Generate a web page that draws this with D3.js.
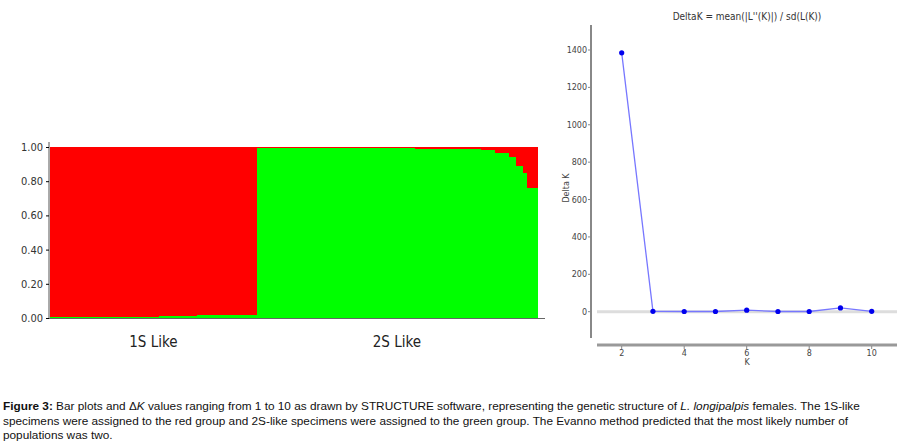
<!DOCTYPE html>
<html><head><meta charset="utf-8">
<script src="https://cdn.jsdelivr.net/npm/d3@7"></script>
<style>body{margin:0;background:#fff}svg{display:block}</style>
</head><body>
<script>
// STRUCTURE bar plot: green membership per individual (red = 1 - green)
var green1S = [0.003,0.003,0.003,0.003,0.003,0.003,0.003,0.003,0.003,0.003,0.003,0.003,0.003,0.003,0.003,0.003,
  0.003,0.003,0.003,0.003,0.003,0.003,0.003,0.003,0.003,0.003,0.003,0.003,0.003,0.003,0.003,
  0.01,0.01,0.01,0.01,0.01,0.01,0.01,0.01,0.01,0.01,0.01,
  0.015,0.015,0.015,0.015,0.015,0.015,0.015,0.015,0.015,0.015,0.015,0.015,0.015,0.02,0.02,0.02,0.02];
var green2S = [0.995,0.995,0.995,0.995,0.995,0.995,0.995,0.995,0.995,0.995,0.995,0.995,0.995,0.995,0.995,
  0.995,0.995,0.995,0.995,0.995,0.995,0.995,0.995,0.995,0.995,0.995,0.995,0.995,0.995,0.995,
  0.995,0.995,0.995,0.995,0.995,0.995,0.995,0.995,0.995,0.995,0.995,0.995,0.995,0.995,0.995,
  0.99,0.99,0.99,0.99,0.99,0.99,0.99,0.99,0.99,0.99,0.99,0.99,0.99,0.99,0.99,0.99,0.99,0.99,0.99,
  0.98,0.98,0.98,0.98,0.965,0.965,0.965,0.965,0.94,0.94,0.89,0.89,0.85,0.76,0.76,0.76];
var groups = ["1S Like", "2S Like"];
var barTicks = [0, 0.2, 0.4, 0.6, 0.8, 1.0];

// Evanno delta K
var kValues = [2, 3, 4, 5, 6, 7, 8, 9, 10];
var deltaK = [1385, 2, 1, 1, 8, 1, 1, 20, 2];
var kTicks = [2, 4, 6, 8, 10];
var dkTicks = [0, 200, 400, 600, 800, 1000, 1200, 1400];

var svg = d3.select("body").append("svg").attr("width", 918).attr("height", 447);

// ---- left: bar plot
var inds = green1S.map(function(g) { return {g: g, grp: 0}; })
  .concat(green2S.map(function(g) { return {g: g, grp: 1}; }));
var x = d3.scaleBand().domain(d3.range(inds.length)).range([50, 537]).padding(0);
var y = d3.scaleLinear().domain([0, 1]).range([318, 147]);

var bars = svg.append("g").attr("shape-rendering", "crispEdges");
bars.selectAll("rect.red").data(inds).enter().append("rect")
  .attr("x", function(d, i) { return x(i); }).attr("width", x.bandwidth() + 0.5)
  .attr("y", y(1)).attr("height", function(d) { return y(d.g) - y(1); })
  .attr("fill", "#ff0000");
bars.selectAll("rect.green").data(inds).enter().append("rect")
  .attr("x", function(d, i) { return x(i); }).attr("width", x.bandwidth() + 0.5)
  .attr("y", function(d) { return y(d.g); }).attr("height", function(d) { return y(0) - y(d.g); })
  .attr("fill", "#00ff00");

var yAx = svg.append("g").attr("transform", "translate(49,0)")
  .call(d3.axisLeft(y).tickValues(barTicks).tickFormat(d3.format(".2f")).tickSize(3));
yAx.select(".domain").attr("stroke", "#555").attr("d", "M0,142V318");
yAx.selectAll("text").attr("font-family", "DejaVu Sans Condensed, sans-serif").attr("font-size", 11).attr("fill", "#333").attr("x", -6);
svg.append("line").attr("x1", 49).attr("x2", 545).attr("y1", 318.5).attr("y2", 318.5).attr("stroke", "#666");

var n1 = green1S.length;
var centers = [(x(0) + x(n1 - 1) + x.bandwidth()) / 2, (x(n1) + x(inds.length - 1) + x.bandwidth()) / 2];
svg.selectAll("text.grp").data(groups).enter().append("text")
  .attr("x", function(d, i) { return centers[i]; }).attr("y", 347)
  .attr("text-anchor", "middle").attr("font-family", "DejaVu Sans Condensed, sans-serif")
  .attr("font-size", 15).attr("fill", "#222").text(function(d) { return d; });

// ---- right: delta K
var kx = d3.scaleLinear().domain([2, 10]).range([621.7, 871.7]);
var ky = d3.scaleLinear().domain([0, 1400]).range([311.7, 50]);
var g2 = svg.append("g");
g2.append("line").attr("x1", 591).attr("x2", 591).attr("y1", ky(1534)).attr("y2", ky(-141))
  .attr("stroke", "#888").attr("stroke-width", 2);
g2.append("line").attr("x1", 597).attr("x2", 897).attr("y1", 345).attr("y2", 345)
  .attr("stroke", "#999").attr("stroke-width", 3);
g2.append("line").attr("x1", 597).attr("x2", 897).attr("y1", ky(0)).attr("y2", ky(0))
  .attr("stroke", "#ddd").attr("stroke-width", 3);
g2.selectAll("text.yt").data(dkTicks).enter().append("text")
  .attr("x", 587).attr("y", function(d) { return ky(d) + 3; }).attr("text-anchor", "end")
  .attr("font-family", "DejaVu Sans, sans-serif").attr("font-size", 8).attr("fill", "#444")
  .text(function(d) { return d; });
g2.selectAll("line.yt").data(dkTicks).enter().append("line")
  .attr("x1", 588).attr("x2", 591).attr("y1", function(d) { return ky(d); }).attr("y2", function(d) { return ky(d); })
  .attr("stroke", "#888");
g2.selectAll("text.xt").data(kTicks).enter().append("text")
  .attr("x", function(d) { return kx(d); }).attr("y", 356).attr("text-anchor", "middle")
  .attr("font-family", "DejaVu Sans, sans-serif").attr("font-size", 8).attr("fill", "#444")
  .text(function(d) { return d; });
g2.selectAll("line.xt").data(kTicks).enter().append("line")
  .attr("x1", function(d) { return kx(d); }).attr("x2", function(d) { return kx(d); })
  .attr("y1", 346).attr("y2", 349).attr("stroke", "#888");
g2.append("text").attr("x", 747).attr("y", 365).attr("text-anchor", "middle")
  .attr("font-family", "DejaVu Sans, sans-serif").attr("font-size", 8).attr("fill", "#444").text("K");
g2.append("text").attr("transform", "translate(569,188) rotate(-90)").attr("text-anchor", "middle")
  .attr("font-family", "DejaVu Sans, sans-serif").attr("font-size", 8).attr("fill", "#444").text("Delta K");
g2.append("text").attr("x", 747).attr("y", 20).attr("text-anchor", "middle")
  .attr("font-family", "DejaVu Sans Condensed, sans-serif").attr("font-size", 10).attr("fill", "#333")
  .text("DeltaK = mean(|L''(K)|) / sd(L(K))");

var pts = kValues.map(function(k, i) { return [k, deltaK[i]]; });
g2.append("path").datum(pts)
  .attr("d", d3.line().x(function(d) { return kx(d[0]); }).y(function(d) { return ky(d[1]); }))
  .attr("fill", "none").attr("stroke", "#7777ff").attr("stroke-width", 1.3);
g2.selectAll("circle").data(pts).enter().append("circle")
  .attr("cx", function(d) { return kx(d[0]); }).attr("cy", function(d) { return ky(d[1]); })
  .attr("r", 2.6).attr("fill", "#0000ee");

// ---- caption
var cap = svg.append("text").attr("font-family", "Liberation Sans, Arial, sans-serif")
  .attr("font-size", 11.8).attr("fill", "#111");
var l1 = cap.append("tspan").attr("x", 3).attr("y", 410);
l1.append("tspan").attr("font-weight", "bold").text("Figure 3:");
l1.append("tspan").text(" Bar plots and Δ");
l1.append("tspan").attr("font-style", "italic").text("K");
l1.append("tspan").text(" values ranging from 1 to 10 as drawn by STRUCTURE software, representing the genetic structure of ");
l1.append("tspan").attr("font-style", "italic").text("L. longipalpis");
l1.append("tspan").text(" females. The 1S-like");
cap.append("tspan").attr("x", 3).attr("y", 425)
  .text("specimens were assigned to the red group and 2S-like specimens were assigned to the green group. The Evanno method predicted that the most likely number of");
cap.append("tspan").attr("x", 3).attr("y", 439).text("populations was two.");
</script>
</body></html>
